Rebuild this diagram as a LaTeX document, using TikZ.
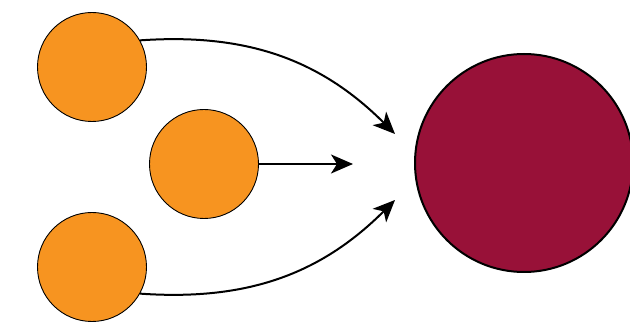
\documentclass[tikz,border=0pt]{standalone}
\usetikzlibrary{arrows.meta}
\definecolor{orng}{RGB}{247,148,32}
\definecolor{wine}{RGB}{152,17,56}
\begin{document}
\begin{tikzpicture}[x=1pt,y=1pt,
  small/.style={circle,draw=black,line width=0.9pt,fill=orng,minimum size=109pt,inner sep=0pt},
  big/.style={circle,draw=black,line width=2pt,fill=wine,minimum size=218pt,inner sep=0pt},
  conn/.style={line width=2pt,-{Stealth[length=22pt,width=19pt,inset=6pt]}}]
\useasboundingbox (0,0) rectangle (630,324);
\node[small] (A) at (92,257) {};
\node[small] (B) at (204,160) {};
\node[small] (C) at (92,57) {};
\node[big] (D) at (524,161) {};
\coordinate (t1) at (395,190);
\coordinate (t2) at (353,160);
\coordinate (t3) at (395,124);
\draw[conn] (A.29) to[out=4,in=135] (t1);
\draw[conn] (B.east) -- (t2);
\draw[conn] (C.-29) to[out=-4,in=-135] (t3);
\end{tikzpicture}
\end{document}
